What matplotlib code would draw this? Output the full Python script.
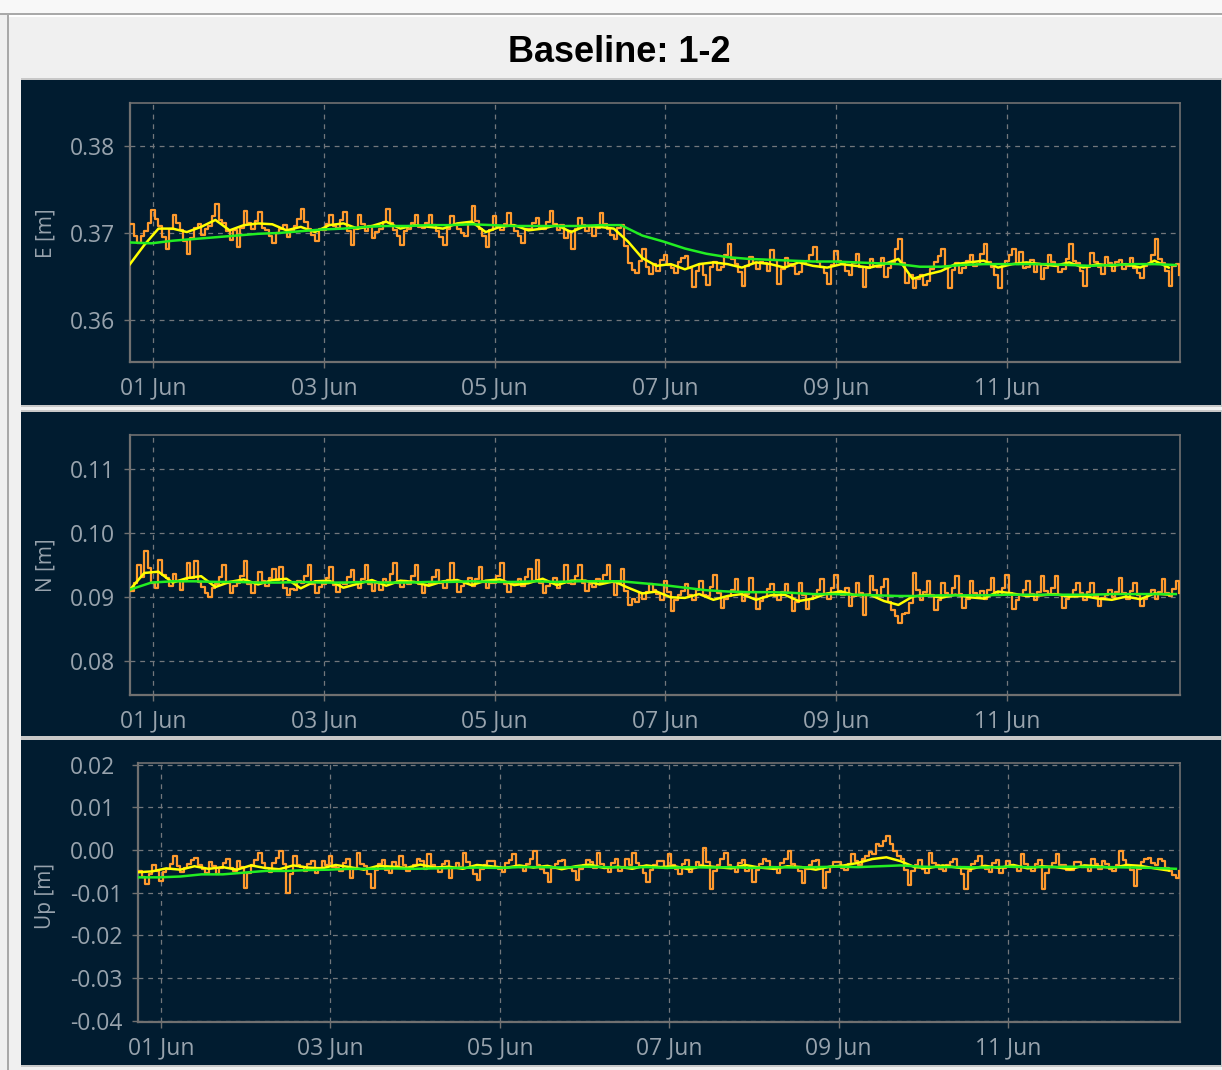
import numpy as np
import matplotlib
matplotlib.use("Agg")
import matplotlib.pyplot as plt
import matplotlib.dates as mdates
from matplotlib.patches import Rectangle
from datetime import datetime, timedelta

plt.rcParams['lines.scale_dashes'] = False

# ---------------- data ----------------
START = datetime(2015, 5, 31, 17, 30)
STEP_RAW_H = 1     # orange (raw solution) sampling, hours
STEP_FAST_H = 4    # yellow (short filter) sampling, hours
STEP_SLOW_H = 6    # green (long filter) sampling, hours

E_raw = [
    0.3710, 0.3697, 0.3688, 0.3696, 0.3702, 0.3711, 0.3727, 0.3716, 0.3708, 0.3695, 0.3682, 0.3704,
    0.3721, 0.3712, 0.3703, 0.3691, 0.3676, 0.3694, 0.3706, 0.3710, 0.3698, 0.3705, 0.3708, 0.3719,
    0.3733, 0.3715, 0.3712, 0.3702, 0.3692, 0.3703, 0.3684, 0.3706, 0.3725, 0.3711, 0.3705, 0.3714,
    0.3724, 0.3706, 0.3703, 0.3696, 0.3688, 0.3700, 0.3704, 0.3709, 0.3695, 0.3702, 0.3708, 0.3716,
    0.3728, 0.3713, 0.3704, 0.3698, 0.3691, 0.3705, 0.3703, 0.3710, 0.3721, 0.3708, 0.3706, 0.3715,
    0.3724, 0.3702, 0.3686, 0.3704, 0.3721, 0.3710, 0.3702, 0.3708, 0.3694, 0.3701, 0.3705, 0.3713,
    0.3728, 0.3712, 0.3703, 0.3697, 0.3686, 0.3702, 0.3704, 0.3711, 0.3721, 0.3707, 0.3706, 0.3712,
    0.3721, 0.3709, 0.3702, 0.3695, 0.3686, 0.3705, 0.3720, 0.3710, 0.3705, 0.3700, 0.3697, 0.3712,
    0.3731, 0.3714, 0.3704, 0.3696, 0.3684, 0.3703, 0.3719, 0.3708, 0.3703, 0.3710, 0.3723, 0.3709,
    0.3702, 0.3697, 0.3688, 0.3704, 0.3705, 0.3711, 0.3717, 0.3706, 0.3704, 0.3713, 0.3725, 0.3710,
    0.3703, 0.3709, 0.3694, 0.3702, 0.3682, 0.3705, 0.3717, 0.3709, 0.3702, 0.3708, 0.3696, 0.3706,
    0.3723, 0.3710, 0.3704, 0.3698, 0.3693, 0.3706, 0.3709, 0.3685, 0.3665, 0.3657, 0.3654, 0.3668,
    0.3682, 0.3661, 0.3653, 0.3664, 0.3656, 0.3669, 0.3674, 0.3663, 0.3660, 0.3654, 0.3666, 0.3671,
    0.3673, 0.3659, 0.3638, 0.3656, 0.3664, 0.3652, 0.3640, 0.3661, 0.3666, 0.3657, 0.3661, 0.3674,
    0.3687, 0.3670, 0.3664, 0.3655, 0.3639, 0.3662, 0.3672, 0.3665, 0.3658, 0.3667, 0.3665, 0.3656,
    0.3680, 0.3669, 0.3641, 0.3658, 0.3671, 0.3664, 0.3662, 0.3653, 0.3655, 0.3667, 0.3668, 0.3675,
    0.3684, 0.3666, 0.3661, 0.3654, 0.3641, 0.3663, 0.3679, 0.3668, 0.3664, 0.3656, 0.3652, 0.3665,
    0.3676, 0.3661, 0.3638, 0.3659, 0.3670, 0.3662, 0.3661, 0.3671, 0.3649, 0.3660, 0.3667, 0.3681,
    0.3693, 0.3665, 0.3642, 0.3651, 0.3636, 0.3647, 0.3651, 0.3640, 0.3645, 0.3658, 0.3666, 0.3673,
    0.3682, 0.3661, 0.3636, 0.3657, 0.3665, 0.3654, 0.3659, 0.3668, 0.3674, 0.3662, 0.3664, 0.3676,
    0.3687, 0.3667, 0.3661, 0.3652, 0.3636, 0.3663, 0.3668, 0.3675, 0.3682, 0.3664, 0.3678, 0.3660,
    0.3661, 0.3669, 0.3655, 0.3664, 0.3647, 0.3660, 0.3674, 0.3666, 0.3662, 0.3655, 0.3658, 0.3670,
    0.3687, 0.3668, 0.3665, 0.3656, 0.3639, 0.3661, 0.3677, 0.3666, 0.3661, 0.3653, 0.3672, 0.3665,
    0.3656, 0.3667, 0.3669, 0.3658, 0.3662, 0.3671, 0.3660, 0.3654, 0.3648, 0.3662, 0.3664, 0.3674,
    0.3693, 0.3670, 0.3665, 0.3656, 0.3639, 0.3662, 0.3664, 0.3651,
]
E_fast = [
    0.3664, 0.3686, 0.3705, 0.3705, 0.3701, 0.3707, 0.3715, 0.3703, 0.3709, 0.3711, 0.3710, 0.3703,
    0.3707, 0.3701, 0.3709, 0.3711, 0.3705, 0.3708, 0.3713, 0.3705, 0.3709, 0.3707, 0.3705, 0.3711,
    0.3713, 0.3701, 0.3707, 0.3709, 0.3703, 0.3705, 0.3709, 0.3701, 0.3708, 0.3707, 0.3705, 0.3690,
    0.3671, 0.3662, 0.3664, 0.3658, 0.3664, 0.3666, 0.3664, 0.3660, 0.3666, 0.3664, 0.3660, 0.3666,
    0.3662, 0.3660, 0.3664, 0.3662, 0.3660, 0.3664, 0.3670, 0.3647, 0.3652, 0.3656, 0.3664, 0.3666,
    0.3668, 0.3660, 0.3664, 0.3666, 0.3664, 0.3662, 0.3666, 0.3660, 0.3664, 0.3662, 0.3664, 0.3660,
    0.3668, 0.3660,
]
E_slow = [
    0.3689, 0.3688, 0.3691, 0.3693, 0.3695, 0.3697, 0.3699, 0.3700, 0.3702, 0.3704, 0.3705, 0.3707,
    0.3708, 0.3708, 0.3709, 0.3709, 0.3710, 0.3709, 0.3708, 0.3708, 0.3708, 0.3708, 0.3709, 0.3709,
    0.3697, 0.3690, 0.3682, 0.3676, 0.3672, 0.3670, 0.3669, 0.3668, 0.3667, 0.3667, 0.3666, 0.3665,
    0.3664, 0.3661, 0.3661, 0.3663, 0.3664, 0.3664, 0.3664, 0.3664, 0.3663, 0.3662, 0.3663, 0.3664,
    0.3664, 0.3663,
]

N_raw = [
    0.0910, 0.0923, 0.0950, 0.0932, 0.0973, 0.0946, 0.0922, 0.0914, 0.0958, 0.0935, 0.0930, 0.0918,
    0.0937, 0.0925, 0.0911, 0.0926, 0.0953, 0.0930, 0.0956, 0.0924, 0.0916, 0.0906, 0.0901, 0.0915,
    0.0920, 0.0931, 0.0950, 0.0922, 0.0906, 0.0917, 0.0922, 0.0934, 0.0956, 0.0920, 0.0907, 0.0924,
    0.0940, 0.0925, 0.0918, 0.0930, 0.0945, 0.0927, 0.0948, 0.0915, 0.0904, 0.0913, 0.0912, 0.0926,
    0.0923, 0.0933, 0.0950, 0.0921, 0.0907, 0.0916, 0.0921, 0.0930, 0.0948, 0.0919, 0.0908, 0.0923,
    0.0920, 0.0932, 0.0943, 0.0924, 0.0915, 0.0928, 0.0950, 0.0920, 0.0910, 0.0922, 0.0912, 0.0929,
    0.0924, 0.0936, 0.0953, 0.0923, 0.0916, 0.0925, 0.0920, 0.0934, 0.0950, 0.0921, 0.0907, 0.0919,
    0.0923, 0.0931, 0.0943, 0.0922, 0.0915, 0.0927, 0.0953, 0.0925, 0.0909, 0.0918, 0.0922, 0.0930,
    0.0918, 0.0929, 0.0948, 0.0924, 0.0914, 0.0922, 0.0923, 0.0933, 0.0953, 0.0920, 0.0909, 0.0921,
    0.0920, 0.0928, 0.0917, 0.0931, 0.0945, 0.0926, 0.0958, 0.0922, 0.0906, 0.0917, 0.0922, 0.0930,
    0.0915, 0.0924, 0.0950, 0.0923, 0.0920, 0.0933, 0.0950, 0.0922, 0.0910, 0.0920, 0.0916, 0.0929,
    0.0923, 0.0935, 0.0950, 0.0924, 0.0904, 0.0922, 0.0945, 0.0910, 0.0888, 0.0898, 0.0892, 0.0906,
    0.0897, 0.0909, 0.0920, 0.0911, 0.0905, 0.0896, 0.0925, 0.0908, 0.0878, 0.0895, 0.0903, 0.0910,
    0.0920, 0.0904, 0.0895, 0.0912, 0.0925, 0.0903, 0.0902, 0.0916, 0.0935, 0.0907, 0.0883, 0.0897,
    0.0902, 0.0911, 0.0928, 0.0909, 0.0894, 0.0905, 0.0930, 0.0908, 0.0881, 0.0894, 0.0901, 0.0913,
    0.0920, 0.0902, 0.0896, 0.0909, 0.0920, 0.0906, 0.0878, 0.0892, 0.0922, 0.0904, 0.0881, 0.0898,
    0.0903, 0.0912, 0.0928, 0.0905, 0.0898, 0.0914, 0.0935, 0.0910, 0.0904, 0.0915, 0.0886, 0.0902,
    0.0922, 0.0907, 0.0873, 0.0904, 0.0933, 0.0911, 0.0902, 0.0916, 0.0928, 0.0892, 0.0880, 0.0870,
    0.0860, 0.0874, 0.0875, 0.0891, 0.0938, 0.0912, 0.0895, 0.0908, 0.0925, 0.0903, 0.0880, 0.0896,
    0.0922, 0.0906, 0.0903, 0.0914, 0.0933, 0.0905, 0.0883, 0.0898, 0.0925, 0.0907, 0.0902, 0.0910,
    0.0897, 0.0911, 0.0930, 0.0909, 0.0904, 0.0915, 0.0935, 0.0906, 0.0881, 0.0896, 0.0903, 0.0912,
    0.0925, 0.0905, 0.0896, 0.0908, 0.0933, 0.0910, 0.0905, 0.0914, 0.0933, 0.0904, 0.0883, 0.0897,
    0.0902, 0.0911, 0.0922, 0.0906, 0.0896, 0.0909, 0.0922, 0.0902, 0.0886, 0.0899, 0.0903, 0.0912,
    0.0901, 0.0909, 0.0930, 0.0907, 0.0897, 0.0910, 0.0922, 0.0904, 0.0886, 0.0898, 0.0903, 0.0911,
    0.0898, 0.0908, 0.0928, 0.0906, 0.0902, 0.0913, 0.0925, 0.0907,
]
N_fast = [
    0.0912, 0.0938, 0.0940, 0.0923, 0.0930, 0.0933, 0.0916, 0.0924, 0.0928, 0.0920, 0.0927, 0.0929,
    0.0914, 0.0925, 0.0926, 0.0915, 0.0921, 0.0927, 0.0918, 0.0926, 0.0924, 0.0918, 0.0925, 0.0927,
    0.0919, 0.0926, 0.0928, 0.0919, 0.0922, 0.0929, 0.0919, 0.0926, 0.0926, 0.0920, 0.0925, 0.0915,
    0.0906, 0.0909, 0.0900, 0.0899, 0.0905, 0.0896, 0.0902, 0.0905, 0.0896, 0.0903, 0.0904, 0.0894,
    0.0898, 0.0906, 0.0909, 0.0903, 0.0904, 0.0894, 0.0888, 0.0901, 0.0904, 0.0899, 0.0904, 0.0900,
    0.0898, 0.0909, 0.0906, 0.0902, 0.0903, 0.0905, 0.0901, 0.0902, 0.0898, 0.0896, 0.0901, 0.0897,
    0.0906, 0.0904,
]
N_slow = [
    0.0912, 0.0923, 0.0925, 0.0925, 0.0924, 0.0924, 0.0923, 0.0923, 0.0924, 0.0923, 0.0923, 0.0924,
    0.0923, 0.0923, 0.0924, 0.0924, 0.0925, 0.0924, 0.0924, 0.0925, 0.0924, 0.0925, 0.0925, 0.0925,
    0.0922, 0.0919, 0.0915, 0.0911, 0.0909, 0.0908, 0.0908, 0.0907, 0.0905, 0.0905, 0.0904, 0.0903,
    0.0902, 0.0902, 0.0903, 0.0903, 0.0903, 0.0904, 0.0904, 0.0904, 0.0904, 0.0904, 0.0905, 0.0905,
    0.0905, 0.0905,
]

U_raw = [
    -0.0050, -0.0063, -0.0080, -0.0055, -0.0035, -0.0048, -0.0072, -0.0051, -0.0045, -0.0032, -0.0014, -0.0038,
    -0.0052, -0.0043, -0.0033, -0.0024, -0.0018, -0.0036, -0.0044, -0.0053, -0.0029, -0.0038, -0.0056, -0.0042,
    -0.0030, -0.0022, -0.0041, -0.0050, -0.0025, -0.0039, -0.0089, -0.0054, -0.0036, -0.0023, -0.0006, -0.0031,
    -0.0042, -0.0052, -0.0031, -0.0019, -0.0002, -0.0033, -0.0100, -0.0056, -0.0014, -0.0035, -0.0040, -0.0049,
    -0.0032, -0.0026, -0.0054, -0.0041, -0.0026, -0.0036, -0.0013, -0.0039, -0.0041, -0.0050, -0.0030, -0.0021,
    -0.0066, -0.0044, -0.0008, -0.0032, -0.0038, -0.0055, -0.0089, -0.0046, -0.0033, -0.0024, -0.0046, -0.0053,
    -0.0028, -0.0037, -0.0014, -0.0034, -0.0049, -0.0040, -0.0035, -0.0022, -0.0026, -0.0045, -0.0010, -0.0036,
    -0.0043, -0.0051, -0.0032, -0.0025, -0.0066, -0.0043, -0.0030, -0.0039, -0.0006, -0.0029, -0.0042, -0.0056,
    -0.0070, -0.0044, -0.0034, -0.0025, -0.0025, -0.0040, -0.0044, -0.0052, -0.0031, -0.0023, -0.0010, -0.0037,
    -0.0040, -0.0048, -0.0033, -0.0021, -0.0002, -0.0034, -0.0045, -0.0054, -0.0074, -0.0042, -0.0032, -0.0026,
    -0.0024, -0.0039, -0.0041, -0.0050, -0.0070, -0.0045, -0.0035, -0.0024, -0.0027, -0.0041, -0.0006, -0.0033,
    -0.0043, -0.0052, -0.0030, -0.0022, -0.0050, -0.0040, -0.0022, -0.0036, -0.0006, -0.0031, -0.0038, -0.0053,
    -0.0074, -0.0046, -0.0036, -0.0025, -0.0025, -0.0042, -0.0010, -0.0034, -0.0044, -0.0055, -0.0032, -0.0023,
    -0.0052, -0.0041, -0.0028, -0.0036, 0.0005, -0.0027, -0.0092, -0.0050, -0.0034, -0.0022, -0.0006, -0.0035,
    -0.0042, -0.0051, -0.0030, -0.0024, -0.0050, -0.0042, -0.0074, -0.0046, -0.0033, -0.0021, -0.0026, -0.0040,
    -0.0044, -0.0053, -0.0030, -0.0022, -0.0002, -0.0033, -0.0040, -0.0050, -0.0077, -0.0044, -0.0034, -0.0025,
    -0.0023, -0.0041, -0.0089, -0.0052, -0.0039, -0.0028, -0.0028, -0.0043, -0.0046, -0.0032, -0.0010, -0.0026,
    -0.0035, -0.0020, -0.0015, -0.0004, -0.0009, 0.0014, 0.0009, 0.0022, 0.0033, 0.0015, -0.0002, -0.0013,
    -0.0021, -0.0046, -0.0081, -0.0050, -0.0036, -0.0024, -0.0045, -0.0053, -0.0006, -0.0031, -0.0034, -0.0044,
    -0.0048, -0.0036, -0.0027, -0.0020, -0.0039, -0.0055, -0.0092, -0.0048, -0.0033, -0.0025, -0.0014, -0.0037,
    -0.0044, -0.0051, -0.0031, -0.0023, -0.0053, -0.0042, -0.0026, -0.0034, -0.0039, -0.0049, -0.0010, -0.0032,
    -0.0042, -0.0050, -0.0033, -0.0024, -0.0092, -0.0053, -0.0040, -0.0030, -0.0010, -0.0036, -0.0034, -0.0046,
    -0.0046, -0.0029, -0.0028, -0.0040, -0.0037, -0.0050, -0.0021, -0.0033, -0.0045, -0.0026, -0.0032, -0.0044,
    -0.0050, -0.0035, -0.0002, -0.0024, -0.0036, -0.0047, -0.0084, -0.0045, -0.0029, -0.0020, -0.0018, -0.0030,
    -0.0036, -0.0022, -0.0026, -0.0041, -0.0048, -0.0058, -0.0066, -0.0049,
]
U_fast = [
    -0.0052, -0.0050, -0.0043, -0.0046, -0.0038, -0.0044, -0.0040, -0.0046, -0.0036, -0.0042, -0.0045, -0.0036,
    -0.0041, -0.0043, -0.0035, -0.0040, -0.0046, -0.0037, -0.0039, -0.0042, -0.0034, -0.0041, -0.0039, -0.0044,
    -0.0035, -0.0038, -0.0042, -0.0036, -0.0041, -0.0037, -0.0045, -0.0038, -0.0034, -0.0042, -0.0039, -0.0044,
    -0.0036, -0.0040, -0.0038, -0.0045, -0.0037, -0.0040, -0.0043, -0.0035, -0.0041, -0.0044, -0.0038, -0.0040,
    -0.0046, -0.0039, -0.0036, -0.0030, -0.0021, -0.0017, -0.0026, -0.0040, -0.0042, -0.0036, -0.0041, -0.0044,
    -0.0037, -0.0042, -0.0035, -0.0043, -0.0038, -0.0040, -0.0045, -0.0036, -0.0038, -0.0042, -0.0035, -0.0037,
    -0.0043, -0.0048,
]
U_slow = [
    -0.0064, -0.0064, -0.0062, -0.0057, -0.0057, -0.0053, -0.0049, -0.0049, -0.0047, -0.0046, -0.0044, -0.0044,
    -0.0043, -0.0044, -0.0043, -0.0042, -0.0041, -0.0042, -0.0040, -0.0040, -0.0041, -0.0039, -0.0040, -0.0041,
    -0.0040, -0.0042, -0.0040, -0.0041, -0.0040, -0.0042, -0.0040, -0.0041, -0.0040, -0.0039, -0.0040, -0.0038,
    -0.0036, -0.0039, -0.0040, -0.0040, -0.0041, -0.0039, -0.0040, -0.0040, -0.0039, -0.0040, -0.0040, -0.0041,
    -0.0042, -0.0044,
]

TITLE = "Baseline: 1-2"
Y_LABELS = ["E [m]", "N [m]", "Up [m]"]
Y_TICKS = [[0.36, 0.37, 0.38],
           [0.08, 0.09, 0.10, 0.11],
           [-0.04, -0.03, -0.02, -0.01, 0.00, 0.01, 0.02]]
Y_LIMS = [(0.3551, 0.3850), (0.0747, 0.1154), (-0.0403, 0.0204)]
TICK_DAYS = [1, 3, 5, 7, 9, 11]
X_LIMS = (datetime(2015, 5, 31, 17, 30), datetime(2015, 6, 13, 0, 40))

# ---------------- styling / layout ----------------
W, H = 1222, 1070
BG = "#f0f0f0"
PANEL = "#011c30"
ORANGE = "#ff9a2e"
YELLOW = "#ffff00"
GREEN = "#22ee22"
GRID = "#72777c"
SPINE = "#707070"
TXT = "#98a3ad"
FONT = "Open Sans"

fig = plt.figure(figsize=(W / 100, H / 100), dpi=100)
fig.patch.set_facecolor(BG)


def fr(x0, y0, x1, y1):
    return [x0 / W, 1 - y1 / H, (x1 - x0) / W, (y1 - y0) / H]


def rect(x0, y0, x1, y1, color, z=-10):
    l, b, w, h = fr(x0, y0, x1, y1)
    fig.add_artist(Rectangle((l, b), w, h, transform=fig.transFigure,
                             facecolor=color, edgecolor="none", zorder=z))


# window chrome
rect(0, 0, W, 13, "#f8f8f8")
rect(0, 13, W, 15, "#a9a9a9")
rect(7, 15, 9, H, "#a9a9a9")
rect(9, 15, W, 17, "#ffffff")

panels = [(21, 80, 1221, 405), (21, 412, 1221, 736), (21, 740, 1221, 1065)]
for (x0, y0, x1, y1) in panels:
    rect(x0, y0 - 2, x1 + 1, y1 + 2, "#c8c8c8", z=-9)
    rect(x0, y0, x1, y1, PANEL, z=-8)

fig.text(619 / W, 1 - 53 / H, TITLE, ha="center", va="center",
         fontsize=26, fontweight="bold", family="Liberation Sans", color="#000000")

axes_pix = [(130, 103, 1180, 362), (130, 435, 1180, 695), (138, 763, 1180, 1022)]
label_y = [233, 565, 896]

series = [(E_raw, E_fast, E_slow), (N_raw, N_fast, N_slow), (U_raw, U_fast, U_slow)]


def times(n, step_h):
    return [START + timedelta(hours=step_h * k) for k in range(n)]


for k, ((x0, y0, x1, y1), (raw, fast, slow)) in enumerate(zip(axes_pix, series)):
    ax = fig.add_axes(fr(x0, y0, x1, y1))
    ax.set_facecolor("none")
    ax.plot(times(len(raw), STEP_RAW_H), raw, color=ORANGE, lw=1.6,
            drawstyle="steps-post", zorder=3)
    ax.plot(times(len(fast), STEP_FAST_H), fast, color=YELLOW, lw=1.8, zorder=4)
    ax.plot(times(len(slow), STEP_SLOW_H), slow, color=GREEN, lw=1.8, zorder=5)

    ax.set_xlim(*X_LIMS)
    ax.set_ylim(*Y_LIMS[k])
    ax.set_yticks(Y_TICKS[k])
    ax.yaxis.set_major_formatter(matplotlib.ticker.FormatStrFormatter("%.2f"))
    ax.xaxis.set_major_locator(mdates.DayLocator(bymonthday=TICK_DAYS))
    ax.xaxis.set_major_formatter(mdates.DateFormatter("%d %b"))

    ax.grid(True, color=GRID, lw=0.9, linestyle=(0, (3.5, 3.5)), zorder=1)
    for side, sp in ax.spines.items():
        sp.set_color(SPINE)
        sp.set_linewidth(1.6 if side in ("left", "bottom") else 1.2)

    ypad_px = (x0 - 70.6) - 5
    ax.tick_params(axis="y", colors=SPINE, labelcolor=TXT, length=4, width=1,
                   pad=ypad_px * 0.72, labelsize=16.5)
    ax.tick_params(axis="x", colors=SPINE, labelcolor=TXT, length=4, width=1,
                   pad=6.3, labelsize=16.5)
    for lbl in ax.get_yticklabels():
        lbl.set_horizontalalignment("left")
        lbl.set_family(FONT)
    for lbl in ax.get_xticklabels():
        lbl.set_family(FONT)

    fig.text(46 / W, 1 - label_y[k] / H, Y_LABELS[k], rotation=90, ha="center",
             va="center", fontsize=15, family=FONT, color=TXT)

fig.savefig("out.png", dpi=100, facecolor=BG)
